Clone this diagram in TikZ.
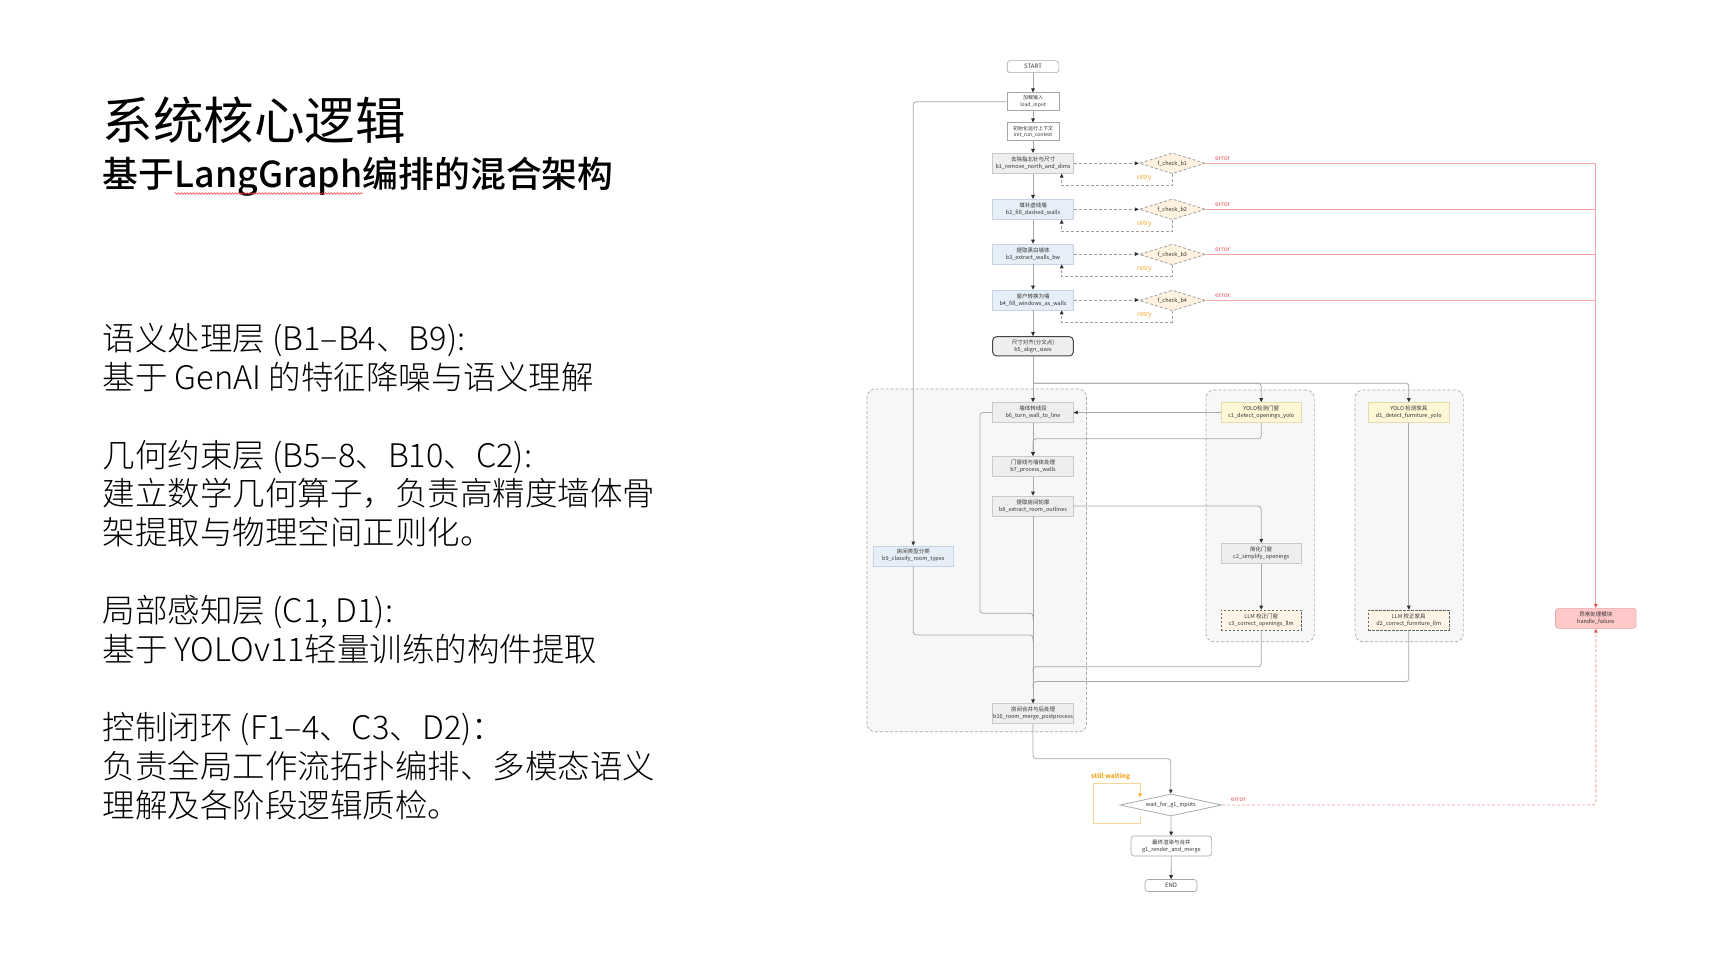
\documentclass[tikz,border=0pt]{standalone}
\usepackage{fontspec}
\setmainfont{Noto Sans CJK SC}
\newfontfamily\subfont{Noto Sans CJK SC Medium}
\newfontfamily\lightfont{Noto Sans CJK SC Light}
\usetikzlibrary{shapes.geometric,arrows.meta,decorations.pathmorphing,calc}
\definecolor{lineg}{HTML}{A8A8A8}
\definecolor{tipc}{HTML}{303030}
\definecolor{txt}{HTML}{333333}
\definecolor{grayfill}{HTML}{EEEEEE}
\definecolor{graydraw}{HTML}{C9C9C9}
\definecolor{bluefill}{HTML}{E6EEF7}
\definecolor{bluedraw}{HTML}{C5D3E2}
\definecolor{yelfill}{HTML}{FFF7D6}
\definecolor{yeldraw}{HTML}{E3DCAE}
\definecolor{llmfill}{HTML}{FFF5E6}
\definecolor{chkfill}{HTML}{FFF2E0}
\definecolor{failfill}{HTML}{FFC9C9}
\definecolor{faildraw}{HTML}{E3A9A9}
\definecolor{errc}{HTML}{F2A3A3}
\definecolor{errtxt}{HTML}{E25555}
\definecolor{orangec}{HTML}{F5A623}
\definecolor{orangel}{HTML}{FAD59A}
\definecolor{clfill}{HTML}{F7F7F7}
\definecolor{cldraw}{HTML}{AAAAAA}
\tikzset{
  tip/.style={-{Triangle[length=4pt,width=3.6pt,color=tipc]}},
  flow/.style={draw=lineg, line width=0.8pt, tip},
  plain/.style={draw=lineg, line width=0.8pt},
  dflow/.style={draw=gray!75, line width=0.8pt, dash pattern=on 3pt off 2pt, tip},
  errline/.style={draw=errc, line width=0.9pt},
  errarrow/.style={errline, -{Triangle[length=4pt,width=3.6pt,color=errtxt]}},
  errdash/.style={draw=errc, line width=0.9pt, dash pattern=on 3pt off 2pt, -{Triangle[length=4pt,width=3.6pt,color=errtxt]}},
  nd/.style={rectangle, inner sep=0pt, align=center, text=txt, font=\fontsize{5.5}{7}\selectfont, minimum width=80.7pt, minimum height=20pt, line width=0.6pt},
  graynd/.style={nd, fill=grayfill, draw=graydraw},
  bluend/.style={nd, fill=bluefill, draw=bluedraw},
  whitend/.style={nd, fill=white, draw=gray!70},
  yelnd/.style={nd, fill=yelfill, draw=yeldraw},
  llmnd/.style={nd, fill=llmfill, draw=gray!80!black, dash pattern=on 2.5pt off 1.5pt},
  failnd/.style={nd, fill=failfill, draw=faildraw, rounded corners=3pt},
  chknd/.style={diamond, aspect=3.2, inner sep=0pt, text=txt, font=\fontsize{5.5}{7}\selectfont, minimum width=66pt, minimum height=20.7pt, fill=chkfill, draw=gray!75, line width=0.8pt, dash pattern=on 3pt off 2pt},
  cluster/.style={rectangle, rounded corners=8pt, fill=clfill, draw=cldraw, line width=0.7pt, dash pattern=on 3pt off 2pt, inner sep=0pt},
  retrylbl/.style={text=orangec, font=\fontsize{6.5}{7}\selectfont, inner sep=0pt},
  errlbl/.style={text=errtxt, font=\fontsize{6.5}{7}\selectfont, inner sep=0pt},
  lefttxt/.style={anchor=base west, inner sep=0pt, font=\lightfont\fontsize{32.5}{38}\selectfont},
  subtxt/.style={anchor=base west, inner sep=0pt, font=\subfont\fontsize{35.8}{40}\selectfont},
}
\begin{document}
\begin{tikzpicture}[x=1pt,y=-1pt]
\fill[white] (0,0) rectangle (1728,968);
\useasboundingbox (0,0) rectangle (1728,968);

% ---------- left text ----------
\node[anchor=base west, inner sep=0pt, font=\fontsize{50.5}{56}\selectfont] (title) at (102.5,140) {系统核心逻辑};
\node[subtxt] (s1) at (102.5,187.5) {基于};
\node[subtxt] (s2) at (s1.base east) {LangGraph};
\node[subtxt] (s3) at (s2.base east) {编排的混合架构};
\draw[red!75, line width=0.6pt, decorate, decoration={snake, amplitude=0.8pt, segment length=3pt}]
  ($(s2.base west)+(0,6)$) -- ($(s2.base east)+(0,6)$);

\node[lefttxt] (t1) at (102.5,350.3) {语义处理层 (B1–B4、B9):};
\node[lefttxt] (t2) at (102.5,389.2) {基于 GenAI 的特征降噪与语义理解};
\node[lefttxt] (t3) at (102.5,467.0) {几何约束层 (B5–8、B10、C2):};
\node[lefttxt] (t4) at (102.5,505.9) {建立数学几何算子，负责高精度墙体骨};
\node[lefttxt] (t5) at (102.5,544.8) {架提取与物理空间正则化。};
\node[lefttxt] (t6) at (102.5,622.6) {局部感知层 (C1, D1):};
\node[lefttxt] (t7) at (102.5,661.5) {基于 YOLOv11轻量训练的构件提取};
\node[lefttxt] (t8) at (102.5,739.3) {控制闭环 (F1–4、C3、D2)：};
\node[lefttxt] (t9) at (102.5,778.2) {负责全局工作流拓扑编排、多模态语义};
\node[lefttxt] (t10) at (102.5,817.1) {理解及各阶段逻辑质检。};

% ---------- clusters ----------
\node[cluster, minimum width=219.5pt, minimum height=342.7pt] (clB) at (976.8,560.4) {};
\node[cluster, minimum width=108.3pt, minimum height=251.7pt] (clC) at (1260.2,515.9) {};
\node[cluster, minimum width=108.3pt, minimum height=251.7pt] (clD) at (1409.2,515.9) {};

% ---------- nodes ----------
\node[whitend, rounded corners=3pt, minimum width=51.6pt, minimum height=12pt, font=\fontsize{6}{7}\selectfont] (start) at (1033,66.7) {START};
\node[whitend, minimum width=52pt, minimum height=18pt, font=\fontsize{5}{6.5}\selectfont] (load) at (1033,101.7) {加载输入\\load\_input};
\node[whitend, minimum width=52pt, minimum height=18pt, font=\fontsize{5}{6.5}\selectfont] (init) at (1033,131.7) {初始化运行上下文\\init\_run\_context};
\node[graynd] (b1) at (1033,163.3) {去除指北针与尺寸\\b1\_remove\_north\_and\_dims};
\node[bluend] (b2) at (1033,209.3) {填补虚线墙\\b2\_fill\_dashed\_walls};
\node[bluend] (b3) at (1033,254) {提取黑白墙体\\b3\_extract\_walls\_bw};
\node[bluend] (b4) at (1033,300) {窗户转换为墙\\b4\_fill\_windows\_as\_walls};
\node[nd, fill=grayfill, draw=gray!55!black, line width=1pt, rounded corners=4pt, minimum height=19.3pt] (b5) at (1033,346.3) {尺寸对齐(分叉点)\\b5\_align\_sizes};

\node[chknd] (f1) at (1172.3,163.3) {f\_check\_b1};
\node[chknd] (f2) at (1172.3,209.3) {f\_check\_b2};
\node[chknd] (f3) at (1172.3,254.5) {f\_check\_b3};
\node[chknd] (f4) at (1172.3,300.5) {f\_check\_b4};

\node[graynd] (b6) at (1033,412.5) {墙体转线段\\b6\_turn\_wall\_to\_line};
\node[graynd] (b7) at (1033,466.3) {门窗线与墙体处理\\b7\_process\_walls};
\node[graynd] (b8) at (1033,506) {提取房间轮廓\\b8\_extract\_room\_outlines};
\node[bluend] (b9) at (913.3,555.8) {房间类型分类\\b9\_classify\_room\_types};
\node[graynd] (b10) at (1033,713.7) {房间合并与后处理\\b10\_room\_merge\_postprocess};

\node[yelnd] (c1) at (1261.2,412.5) {YOLO检测门窗\\c1\_detect\_openings\_yolo};
\node[yelnd] (d1) at (1408.8,412.5) {YOLO 检测家具\\d1\_detect\_furniture\_yolo};
\node[graynd] (c2) at (1261.2,553.3) {简化门窗\\c2\_simplify\_openings};
\node[llmnd] (c3) at (1261.2,620) {LLM 校正门窗\\c3\_correct\_openings\_llm};
\node[llmnd] (d2) at (1408.8,620) {LLM 校正家具\\d2\_correct\_furniture\_llm};

\node[failnd] (hf) at (1595.8,618.3) {异常处理模块\\handle\_failure};

\node[diamond, aspect=4.6, inner sep=0pt, minimum width=101.7pt, minimum height=22pt, fill=white, draw=gray!65, line width=0.8pt, text=txt, font=\fontsize{5.5}{7}\selectfont] (wait) at (1170.8,805) {wait\_for\_g1\_inputs};
\node[whitend, rounded corners=3pt] (g1) at (1171.3,846) {最终渲染与合并\\g1\_render\_and\_merge};
\node[whitend, rounded corners=3pt, minimum width=52pt, minimum height=12pt, font=\fontsize{6}{7}\selectfont] (end) at (1171,885.5) {END};

% ---------- main chain ----------
\draw[flow] (start) -- (load);
\draw[flow] (load) -- (init);
\draw[flow] (init) -- (b1);
\draw[flow] (b1) -- (b2);
\draw[flow] (b2) -- (b3);
\draw[flow] (b3) -- (b4);
\draw[flow] (b4) -- (b5);

% checks
\foreach \b/\f in {b1/f1,b2/f2,b3/f3,b4/f4}{
  \draw[dflow] (\b.east) -- (\b.east -| \f.west);
  \coordinate (r\f) at ($(\b.south)+(28.7,12)$);
  \draw[dflow] (\f.south) |- (r\f) -- ([xshift=28.7pt]\b.south);
  \node[retrylbl] (rl\f) at ($(\f.south)+(-28,3.5)$) {retry};
  \node[errlbl] (el\f) at ($(\f.east)+(17,-5)$) {error};
}
\draw[errarrow] (f1.east) -| (hf.north);
\draw[errline] (f2.east) -- (f2.east -| hf.north);
\draw[errline] (f3.east) -- (f3.east -| hf.north);
\draw[errline] (f4.east) -- (f4.east -| hf.north);

% split after b5
\draw[flow] (b5) -- (b6);
\coordinate (split) at ($(b5.south)+(0,26.7)$);
\draw[flow, rounded corners=3pt] (split) -| (c1.north);
\draw[flow, rounded corners=3pt] (split) -| (d1.north);

% load -> b9
\draw[flow, rounded corners=3pt] (load.west) -| (b9.north);

% B cluster flows
\draw[flow] (c1.west) -- (b6.east);
\draw[flow, rounded corners=3pt] (c1.south) -- ++(0,16) -| (b7.north);
\draw[flow] (b6) -- (b7);
\draw[flow] (b7) -- (b8);
\draw[flow, rounded corners=3pt] (b8.east) -| (c2.north);
\draw[flow] (c2) -- (c3);
\draw[flow] (d1) -- (d2);
\draw[flow] (b8) -- (b10);

\coordinate (j1) at (1033,613.3);
\coordinate (j2) at (1033,635);
\coordinate (j3) at (1033,666.7);
\coordinate (j4) at (1033,681.5);
\draw[plain, rounded corners=3pt] (b6.west) -- ++(-12.3,0) |- (j1) -- ++(0,6);
\draw[plain, rounded corners=3pt] (b9.south) |- (j2) -- ++(0,6);
\draw[plain, rounded corners=3pt] (c3.south) |- (j3) -- ++(0,6);
\draw[plain, rounded corners=3pt] (d2.south) |- (j4) -- ++(0,6);

% to wait
\draw[flow, rounded corners=3pt] (b10.south) -- ++(0,34.7) -| (wait.north);
\draw[flow] (wait) -- (g1);
\draw[flow] (g1) -- (end);

% still waiting loop
\coordinate (sw) at ($(wait.center)+(-30.8,11)$);
\draw[draw=orangel, line width=0.9pt, -{Triangle[length=4pt,width=3.6pt,color=orangec]}]
  (sw) -- ++(0,7.3) -- ++(-46.7,0) -- ++(0,-40) -- ++(46.7,0) -- ++(0,14);
\node[text=orangec, font=\fontsize{6.5}{7}\selectfont\bfseries, inner sep=0pt] (swl) at (1110.7,776.7) {still waiting};

% wait error
\draw[errdash, rounded corners=3pt] (wait.east) -| (hf.south);
\node[errlbl] (elw) at (1238.3,799.3) {error};
\end{tikzpicture}
\end{document}
